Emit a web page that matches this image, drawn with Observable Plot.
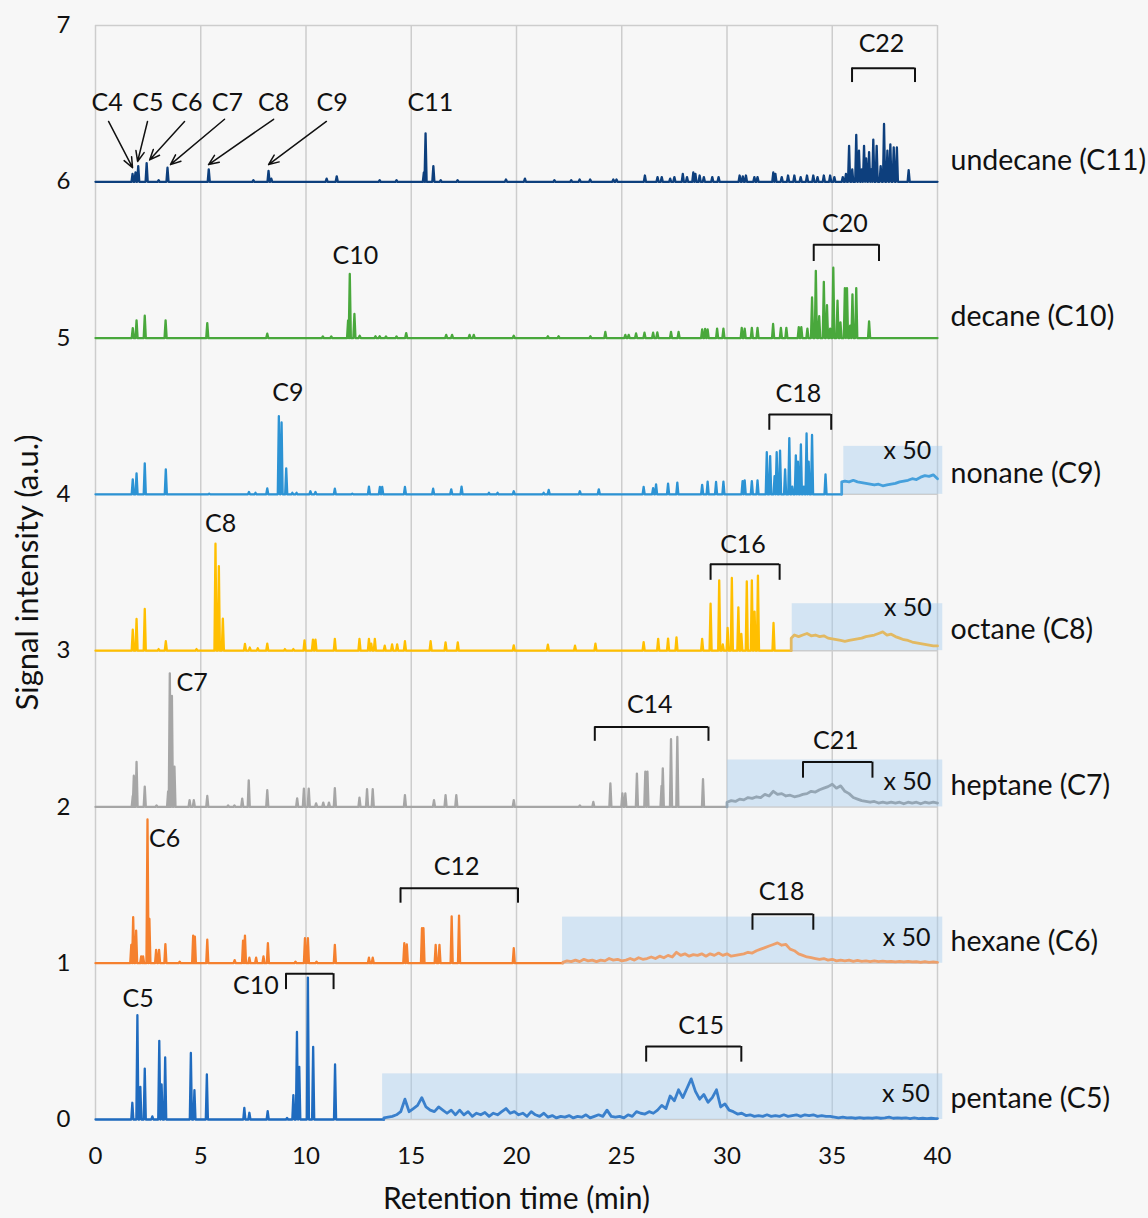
<!DOCTYPE html>
<html><head><meta charset="utf-8">
<script src="https://cdn.jsdelivr.net/npm/d3@7"></script>
<script src="https://cdn.jsdelivr.net/npm/@observablehq/plot@0.6"></script>
<style>
html,body{margin:0;padding:0;background:#f7f7f7;}
</style></head><body><div id="chart"></div>
<script>
// ---------- DATA ----------
const seriesNames = ["pentane (C5)","hexane (C6)","heptane (C7)","octane (C8)","nonane (C9)","decane (C10)","undecane (C11)"];
const xTicks = [0,5,10,15,20,25,30,35,40];
const yTicks = [0,1,2,3,4,5,6,7];

// peaks: [retention time (min), height above the series baseline (a.u.)]
const pentanePeaks = [[1.75,0.107],[1.99,0.667],[2.13,0.209],[2.34,0.326],[2.7,0.02],[3.03,0.503],[3.14,0.224],[3.31,0.397],[4.53,0.426],[4.70,0.188],[5.29,0.288],[7.07,0.075],[7.31,0.043],[8.18,0.053],[9.1,0.01],[9.40,0.156],[9.57,0.56],[9.68,0.337],[10.09,0.908],[10.34,0.465],[11.38,0.352]];
const hexanePeaks = [[1.70,0.117],[1.79,0.294],[1.93,0.209],[2.17,0.043],[2.26,0.043],[2.47,0.92],[2.56,0.284],[2.88,0.085],[3.02,0.085],[3.32,0.122],[4.0,0.01],[4.64,0.177],[4.72,0.17],[5.31,0.15],[6.61,0.02],[7.01,0.145],[7.10,0.177],[7.31,0.036],[7.63,0.036],[7.98,0.043],[8.19,0.128],[9.5,0.01],[9.95,0.16],[10.09,0.16],[10.5,0.01],[11.37,0.117],[12.99,0.036],[13.17,0.036],[14.67,0.128],[14.79,0.12],[15.51,0.224],[15.58,0.224],[16.16,0.117],[16.34,0.117],[16.92,0.30],[17.27,0.305],[19.87,0.096]];
const heptanePeaks = [[1.77,0.07],[1.82,0.2],[1.95,0.288],[2.34,0.13],[2.9,0.01],[3.45,0.1],[3.53,0.855],[3.63,0.71],[3.75,0.258],[4.47,0.043],[4.67,0.043],[5.31,0.07],[6.3,0.01],[6.6,0.01],[6.97,0.053],[7.28,0.17],[8.16,0.107],[9.58,0.055],[9.9,0.117],[10.13,0.117],[10.48,0.023],[10.82,0.028],[11.09,0.028],[11.37,0.12],[12.54,0.06],[12.9,0.113],[13.17,0.113],[14.7,0.075],[16.08,0.043],[16.63,0.075],[17.14,0.075],[19.87,0.043],[23.01,0.01],[23.65,0.032],[24.46,0.15],[25.03,0.087],[25.17,0.087],[25.72,0.213],[26.12,0.226],[26.22,0.226],[26.89,0.134],[26.95,0.247],[27.34,0.433],[27.64,0.448],[28.86,0.177]];
const octanePeaks = [[1.77,0.134],[1.95,0.203],[2.34,0.267],[3.0,0.01],[3.34,0.06],[4.8,0.01],[5.70,0.684],[5.86,0.54],[6.05,0.205],[7.1,0.043],[7.33,0.02],[7.71,0.015],[8.16,0.045],[9.0,0.01],[9.4,0.01],[9.93,0.066],[10.33,0.07],[10.45,0.07],[11.37,0.075],[12.54,0.075],[12.99,0.075],[13.1,0.045],[13.27,0.075],[13.74,0.032],[14.09,0.04],[14.33,0.04],[14.7,0.06],[15.92,0.06],[16.63,0.053],[17.21,0.053],[19.87,0.034],[21.49,0.038],[22.78,0.032],[23.75,0.045],[26.04,0.055],[26.73,0.075],[27.2,0.077],[27.6,0.085],[28.82,0.075],[29.22,0.3],[29.63,0.45],[29.8,0.04],[30.03,0.145],[30.23,0.465],[30.54,0.277],[30.68,0.107],[30.94,0.443],[31.18,0.45],[31.31,0.25],[31.47,0.48],[32.21,0.177]];
const nonanePeaks = [[1.77,0.096],[1.95,0.134],[2.34,0.198],[3.34,0.16],[5.4,0.005],[7.29,0.015],[7.6,0.01],[8.16,0.038],[8.71,0.50],[8.84,0.46],[9.06,0.166],[9.35,0.01],[9.55,0.01],[10.21,0.02],[10.45,0.015],[11.37,0.036],[12.2,0.005],[12.99,0.049],[13.51,0.047],[13.62,0.047],[14.7,0.047],[16.04,0.036],[16.9,0.032],[17.39,0.049],[18.69,0.01],[19.1,0.01],[19.87,0.02],[21.29,0.01],[21.53,0.028],[23.01,0.02],[23.91,0.032],[26.04,0.047],[26.49,0.04],[26.63,0.064],[27.2,0.068],[27.64,0.075],[28.82,0.06],[29.08,0.081],[29.48,0.079],[29.83,0.081],[30.74,0.085],[30.84,0.09],[31.18,0.085],[31.45,0.09],[31.89,0.27],[32.05,0.245],[32.26,0.117],[32.36,0.27],[32.52,0.28],[32.76,0.16],[32.96,0.36],[33.1,0.05],[33.27,0.25],[33.37,0.21],[33.51,0.32],[33.65,0.05],[33.78,0.39],[33.88,0.21],[34.04,0.38],[34.68,0.128]];
const decanePeaks = [[1.77,0.064],[1.95,0.113],[2.34,0.143],[3.33,0.113],[5.31,0.096],[8.16,0.028],[10.8,0.01],[11.2,0.01],[12.0,0.113],[12.08,0.41],[12.3,0.154],[12.55,0.015],[13.3,0.012],[13.5,0.012],[13.8,0.01],[14.3,0.01],[14.76,0.032],[16.66,0.02],[16.94,0.02],[17.77,0.02],[17.97,0.02],[19.87,0.015],[21.49,0.012],[22.0,0.012],[23.51,0.012],[24.22,0.04],[25.17,0.02],[25.33,0.02],[25.68,0.03],[26.08,0.035],[26.49,0.035],[26.69,0.036],[27.34,0.04],[27.7,0.04],[28.82,0.055],[28.96,0.058],[29.08,0.055],[29.53,0.06],[29.83,0.06],[30.7,0.065],[30.84,0.06],[31.18,0.065],[31.45,0.065],[32.19,0.09],[32.56,0.065],[32.82,0.065],[33.41,0.07],[33.53,0.07],[33.82,0.06],[34.04,0.26],[34.22,0.43],[34.38,0.14],[34.6,0.36],[34.75,0.21],[34.9,0.06],[35.05,0.45],[35.25,0.24],[35.39,0.1],[35.6,0.32],[35.7,0.32],[35.85,0.08],[35.96,0.28],[36.14,0.32],[36.75,0.107]];
const undecanePeaks = [[1.76,0.05],[1.9,0.06],[2.03,0.1],[2.43,0.12],[3.0,0.01],[3.42,0.09],[5.38,0.08],[7.5,0.01],[8.22,0.07],[8.35,0.02],[10.98,0.02],[11.46,0.035],[13.5,0.01],[14.3,0.01],[15.6,0.06],[15.68,0.31],[16.05,0.1],[16.4,0.01],[17.2,0.01],[19.5,0.015],[20.4,0.02],[21.8,0.01],[22.6,0.01],[23.0,0.015],[23.5,0.015],[24.6,0.015],[24.75,0.015],[26.1,0.04],[26.7,0.03],[26.9,0.03],[27.3,0.02],[27.5,0.03],[27.9,0.05],[28.1,0.03],[28.4,0.06],[28.5,0.05],[28.7,0.04],[28.9,0.03],[29.3,0.03],[29.6,0.03],[30.6,0.04],[30.75,0.035],[30.9,0.04],[31.3,0.03],[31.45,0.03],[32.2,0.06],[32.3,0.05],[32.6,0.03],[32.9,0.04],[33.2,0.04],[33.5,0.03],[33.8,0.04],[34.1,0.04],[34.3,0.03],[34.6,0.04],[34.9,0.04],[35.1,0.03],[35.5,0.03],[35.65,0.05],[35.8,0.23],[35.95,0.08],[36.14,0.30],[36.27,0.2],[36.4,0.08],[36.51,0.23],[36.61,0.15],[36.75,0.19],[36.85,0.08],[36.95,0.27],[37.11,0.23],[37.3,0.1],[37.46,0.37],[37.62,0.2],[37.76,0.24],[37.92,0.22],[38.07,0.22],[38.63,0.075]];

// x50-magnified segments: [time, height above baseline]
const pentaneX50 = [[13.7,0.01],[13.9,0.015],[14.1,0.02],[14.3,0.03],[14.5,0.05],[14.7,0.13],[14.9,0.05],[15.1,0.07],[15.3,0.09],[15.5,0.14],[15.7,0.08],[15.9,0.06],[16.1,0.05],[16.3,0.08],[16.5,0.06],[16.7,0.04],[16.9,0.06],[17.1,0.03],[17.3,0.06],[17.5,0.03],[17.7,0.05],[17.9,0.02],[18.1,0.04],[18.3,0.03],[18.5,0.045],[18.7,0.02],[18.9,0.04],[19.1,0.03],[19.3,0.05],[19.5,0.07],[19.7,0.04],[19.9,0.05],[20.1,0.03],[20.3,0.04],[20.5,0.02],[20.7,0.05],[20.9,0.03],[21.1,0.02],[21.3,0.04],[21.5,0.015],[21.7,0.025],[21.9,0.01],[22.1,0.02],[22.3,0.015],[22.5,0.025],[22.7,0.01],[22.9,0.02],[23.1,0.015],[23.3,0.03],[23.5,0.01],[23.7,0.02],[23.9,0.03],[24.1,0.02],[24.3,0.06],[24.5,0.02],[24.7,0.015],[24.9,0.02],[25.1,0.01],[25.3,0.03],[25.5,0.02],[25.7,0.05],[25.9,0.04],[26.1,0.035],[26.3,0.05],[26.5,0.04],[26.7,0.06],[26.9,0.09],[27.1,0.07],[27.3,0.15],[27.5,0.12],[27.7,0.19],[27.9,0.14],[28.1,0.2],[28.3,0.26],[28.5,0.18],[28.7,0.13],[28.9,0.16],[29.1,0.11],[29.3,0.14],[29.5,0.19],[29.7,0.08],[29.9,0.1],[30.1,0.06],[30.3,0.05],[30.5,0.035],[30.7,0.04],[30.9,0.025],[31.1,0.03],[31.3,0.02],[31.5,0.025],[31.7,0.02],[31.9,0.03],[32.1,0.02],[32.3,0.025],[32.5,0.02],[32.7,0.03],[32.9,0.02],[33.1,0.025],[33.3,0.03],[33.5,0.02],[33.7,0.03],[33.9,0.025],[34.1,0.03],[34.3,0.02],[34.5,0.025],[34.7,0.02],[34.9,0.02],[35.1,0.015],[35.3,0.01],[35.5,0.015],[35.7,0.01],[35.9,0.012],[36.1,0.008],[36.3,0.012],[36.5,0.008],[36.7,0.01],[36.9,0.008],[37.1,0.012],[37.3,0.008],[37.5,0.01],[37.7,0.015],[37.9,0.008],[38.1,0.01],[38.3,0.008],[38.5,0.01],[38.7,0.006],[38.9,0.01],[39.1,0.006],[39.3,0.008],[39.5,0.006],[39.7,0.008],[39.9,0.006],[40,0.006]];
const hexaneX50 = [[22.2,0.005],[22.4,0.015],[22.6,0.01],[22.8,0.02],[23.0,0.01],[23.2,0.025],[23.4,0.015],[23.6,0.02],[23.8,0.01],[24.0,0.02],[24.2,0.015],[24.4,0.03],[24.6,0.02],[24.8,0.025],[25.0,0.015],[25.2,0.02],[25.4,0.03],[25.6,0.02],[25.8,0.035],[26.0,0.025],[26.2,0.03],[26.4,0.04],[26.6,0.03],[26.8,0.045],[27.0,0.035],[27.2,0.05],[27.4,0.04],[27.6,0.07],[27.8,0.05],[28.0,0.06],[28.2,0.045],[28.4,0.055],[28.6,0.05],[28.8,0.06],[29.0,0.045],[29.2,0.06],[29.4,0.05],[29.6,0.065],[29.8,0.05],[30.0,0.06],[30.2,0.045],[30.4,0.05],[30.6,0.055],[30.8,0.06],[31.0,0.07],[31.2,0.065],[31.4,0.08],[31.6,0.09],[31.8,0.1],[32.0,0.11],[32.2,0.12],[32.4,0.13],[32.6,0.115],[32.8,0.12],[33.0,0.09],[33.2,0.08],[33.4,0.06],[33.6,0.05],[33.8,0.04],[34.0,0.035],[34.2,0.03],[34.4,0.025],[34.6,0.03],[34.8,0.02],[35.0,0.025],[35.2,0.015],[35.4,0.02],[35.6,0.015],[35.8,0.02],[36.0,0.012],[36.2,0.018],[36.4,0.012],[36.6,0.015],[36.8,0.01],[37.0,0.015],[37.2,0.01],[37.4,0.014],[37.6,0.01],[37.8,0.012],[38.0,0.008],[38.2,0.012],[38.4,0.008],[38.6,0.012],[38.8,0.008],[39.0,0.01],[39.2,0.006],[39.4,0.01],[39.6,0.006],[39.8,0.008],[40,0.006]];
const heptaneX50 = [[30.0,0.03],[30.2,0.04],[30.4,0.035],[30.6,0.05],[30.8,0.045],[31.0,0.06],[31.2,0.055],[31.4,0.065],[31.6,0.06],[31.8,0.08],[32.0,0.07],[32.2,0.1],[32.4,0.08],[32.6,0.085],[32.8,0.07],[33.0,0.075],[33.2,0.065],[33.4,0.07],[33.6,0.08],[33.8,0.085],[34.0,0.1],[34.2,0.095],[34.4,0.11],[34.6,0.12],[34.8,0.13],[35.0,0.145],[35.2,0.12],[35.4,0.135],[35.6,0.1],[35.8,0.085],[36.0,0.06],[36.2,0.05],[36.4,0.04],[36.6,0.035],[36.8,0.03],[37.0,0.035],[37.2,0.025],[37.4,0.03],[37.6,0.025],[37.8,0.03],[38.0,0.025],[38.2,0.03],[38.4,0.02],[38.6,0.03],[38.8,0.025],[39.0,0.03],[39.2,0.02],[39.4,0.03],[39.6,0.025],[39.8,0.03],[40.0,0.025]];
const octaneX50 = [[33.05,0.08],[33.2,0.1],[33.4,0.09],[33.6,0.1],[33.8,0.11],[34.0,0.095],[34.2,0.1],[34.4,0.09],[34.6,0.095],[34.8,0.08],[35.0,0.075],[35.2,0.07],[35.4,0.065],[35.6,0.06],[35.8,0.065],[36.0,0.07],[36.2,0.075],[36.4,0.08],[36.6,0.09],[36.8,0.095],[37.0,0.1],[37.2,0.11],[37.4,0.12],[37.6,0.1],[37.8,0.105],[38.0,0.09],[38.2,0.08],[38.4,0.07],[38.6,0.065],[38.8,0.055],[39.0,0.05],[39.2,0.045],[39.4,0.04],[39.6,0.035],[39.8,0.03],[40.0,0.03]];
const nonaneX50 = [[35.45,0.08],[35.6,0.085],[35.8,0.08],[36.0,0.09],[36.2,0.08],[36.4,0.075],[36.6,0.07],[36.8,0.065],[37.0,0.06],[37.2,0.065],[37.4,0.055],[37.6,0.06],[37.8,0.065],[38.0,0.07],[38.2,0.08],[38.4,0.085],[38.6,0.09],[38.8,0.1],[39.0,0.095],[39.2,0.11],[39.4,0.12],[39.6,0.115],[39.8,0.125],[40.0,0.1]];

// shaded x50 regions: [series, start time, top value]
const x50Regions = [["pentane (C5)",13.64,0.292],["hexane (C6)",22.19,1.295],["heptane (C7)",30.03,2.30],["octane (C8)",33.1,3.30],["nonane (C9)",35.55,4.307]];
const x50Labels = [[38.5,0.16],[38.53,1.16],[38.57,2.161],[38.59,3.275],[38.57,4.276]];

// carbon-number labels: [text, time, value]
const peakLabels = [["C4",0.55,6.503],["C5",2.49,6.503],["C6",4.34,6.503],["C7",6.26,6.503],["C8",8.46,6.503],["C9",11.24,6.503],["C11",15.91,6.503],["C22",37.34,6.883],
 ["C10",12.35,5.528],["C20",35.6,5.727],["C9",9.14,4.65],["C18",33.39,4.644],["C8",5.94,3.81],["C16",30.76,3.673],
 ["C7",4.59,2.79],["C14",26.33,2.65],["C21",35.17,2.425],["C6",3.28,1.797],["C12",17.16,1.615],["C18",32.59,1.454],
 ["C5",2.02,0.773],["C10",7.62,0.854],["C15",28.77,0.601]];
// brackets: [start time, end time, top value, leg bottom value]
const brackets = [[35.94,38.93,6.727,6.635],[34.12,37.22,5.597,5.49],[32.01,34.95,4.511,4.41],[29.22,32.5,3.552,3.45],[23.72,29.12,2.511,2.42],[33.61,36.91,2.287,2.184],[14.49,20.07,1.48,1.384],[31.21,34.1,1.313,1.211],[9.05,11.31,0.933,0.831],[26.16,30.68,0.467,0.367]];
// arrows on undecane trace: [from time, from value, to time, to value]
const arrowsC = [[0.62,6.386,1.76,6.09],[2.47,6.386,2.0,6.13],[4.23,6.386,2.57,6.14],[6.13,6.40,3.56,6.11],[8.46,6.40,5.37,6.11],[10.97,6.386,8.22,6.11]];

// ---------- STYLE ----------
const colors = {"pentane (C5)":"#1f6bbf","hexane (C6)":"#f5802e","heptane (C7)":"#a6a6a6","octane (C8)":"#ffbf00","nonane (C9)":"#2c93d4","decane (C10)":"#49a83c","undecane (C11)":"#0d3f7d"};
const x50Colors = {"pentane (C5)":"#3a80cc","hexane (C6)":"#eda06c","heptane (C7)":"#95a6b4","octane (C8)":"#e2b962","nonane (C9)":"#46a0dc"};
const peaksBy = {"pentane (C5)":pentanePeaks,"hexane (C6)":hexanePeaks,"heptane (C7)":heptanePeaks,"octane (C8)":octanePeaks,"nonane (C9)":nonanePeaks,"decane (C10)":decanePeaks,"undecane (C11)":undecanePeaks};
const x50By = {"pentane (C5)":pentaneX50,"hexane (C6)":hexaneX50,"heptane (C7)":heptaneX50,"octane (C8)":octaneX50,"nonane (C9)":nonaneX50};
const W = 0.05;

const lineMarks = [];
seriesNames.forEach((name, base) => {
  const pts = [[0,0]];
  for (const [t,h] of peaksBy[name]) pts.push([t-W,0],[t,h],[t+W,0]);
  const seg = x50By[name];
  pts.push([seg ? seg[0][0] : 40, 0]);
  lineMarks.push(Plot.line(pts.map(([t,h]) => ({t, v: base + h})), {x:"t", y:"v", stroke: colors[name], strokeWidth: 2.3, strokeLinejoin:"round"}));
  if (seg) {
    const sp = [[seg[0][0],0], ...seg];
    lineMarks.push(Plot.line(sp.map(([t,h]) => ({t, v: base + h})), {x:"t", y:"v", stroke: x50Colors[name], strokeWidth: 2.8, strokeLinejoin:"round"}));
  }
});

const FONT = "Lato, 'Open Sans', sans-serif";
const chart = Plot.plot({
  width: 1148, height: 1218,
  marginLeft: 95, marginRight: 211, marginTop: 25, marginBottom: 99,
  style: {fontFamily: FONT, background: "#f7f7f7", color: "#111"},
  x: {domain: [0,40]},
  y: {domain: [0,7]},
  marks: [
    Plot.gridX({ticks: xTicks, stroke: "#cdcdcd", strokeOpacity: 1, strokeWidth: 1.5}),
    Plot.gridY({ticks: yTicks, stroke: "#cdcdcd", strokeOpacity: 1, strokeWidth: 1.5}),
    Plot.rect(x50Regions, {x1: d => d[1], x2: 40.25, y1: d => seriesNames.indexOf(d[0]), y2: d => d[2], fill: "#a6cdee", fillOpacity: 0.45}),
    ...lineMarks,
    Plot.axisX({ticks: xTicks, tickSize: 0, tickPadding: 27, fontSize: 24, label: null, tickFormat: "d"}),
    Plot.axisY({ticks: yTicks, tickSize: 0, tickPadding: 25, fontSize: 24, label: null, tickFormat: "d"}),
    Plot.text(["Retention time (min)"], {frameAnchor: "bottom", dy: 80, textAnchor: "middle", lineAnchor: "middle", fontSize: 30, fill: "#111"}),
    Plot.text(["Signal intensity (a.u.)"], {frameAnchor: "left", dx: -67, textAnchor: "middle", lineAnchor: "middle", rotate: -90, fontSize: 31, fill: "#111"}),
    Plot.text(seriesNames, {x: 40, y: (d,i) => i + 0.134, text: d => d, textAnchor: "start", dx: 13, fontSize: 28.5, fill: "#111"}),
    Plot.text(x50Labels, {x: d => d[0], y: d => d[1], text: () => "x 50", fontSize: 25, fill: "#111"}),
    Plot.text(peakLabels, {x: d => d[1], y: d => d[2], text: d => d[0], fontSize: 25, fill: "#111"}),
    Plot.ruleY(brackets, {x1: d => d[0], x2: d => d[1], y: d => d[2], stroke: "#111", strokeWidth: 2}),
    Plot.ruleX(brackets, {x: d => d[0], y1: d => d[2], y2: d => d[3], stroke: "#111", strokeWidth: 2}),
    Plot.ruleX(brackets, {x: d => d[1], y1: d => d[2], y2: d => d[3], stroke: "#111", strokeWidth: 2}),
    Plot.arrow(arrowsC, {x1: d => d[0], y1: d => d[1], x2: d => d[2], y2: d => d[3], stroke: "#111", strokeWidth: 1.5, headLength: 11, headAngle: 45})
  ]
});
document.getElementById("chart").appendChild(chart);
</script>
</body></html>
